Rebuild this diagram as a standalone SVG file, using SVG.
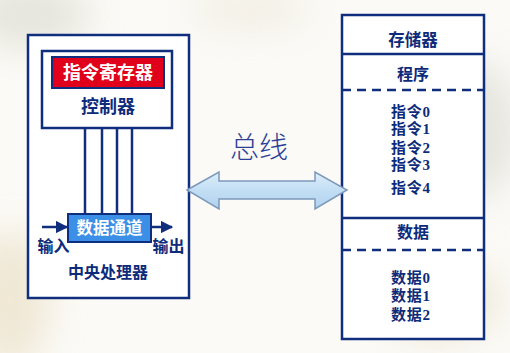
<svg xmlns="http://www.w3.org/2000/svg" width="510" height="353" viewBox="0 0 510 353">
<defs>
<style>
.ln{fill:none;stroke:#102e7e;stroke-width:2.5}
.bx{fill:#ffffff;stroke:#102e7e;stroke-width:2.5}
.t{font-family:"Noto Sans CJK SC","Noto Sans CJK JP",sans-serif;font-weight:bold;fill:#0d2b7a;text-anchor:middle}
.m{font-family:"Liberation Serif","Noto Sans CJK SC",serif;font-weight:bold;fill:#0d2b7a;font-size:15px;letter-spacing:0.8px}
.w{fill:#ffffff}
.dash{fill:none;stroke:#102e7e;stroke-width:2.5;stroke-dasharray:9,6}
</style>
<linearGradient id="bus" x1="0" y1="0" x2="0" y2="1">
<stop offset="0" stop-color="#ddeefa"/>
<stop offset="0.5" stop-color="#c2def4"/>
<stop offset="1" stop-color="#b0d2ee"/>
</linearGradient>
<filter id="blur" x="-50%" y="-50%" width="200%" height="200%"><feGaussianBlur stdDeviation="18"/></filter>
<marker id="arr" viewBox="0 0 10 10" refX="9" refY="5" markerWidth="5" markerHeight="5" orient="auto"><path d="M0,0 L10,5 L0,10 z" fill="#102e7e"/></marker>
</defs>
<rect width="510" height="353" fill="#fbfaf6"/>
<g filter="url(#blur)" opacity="0.6">
<ellipse cx="30" cy="15" rx="60" ry="35" fill="#d8d8cc"/>
<ellipse cx="10" cy="300" rx="40" ry="70" fill="#e8dcc0"/>
<ellipse cx="470" cy="130" rx="50" ry="70" fill="#d8d8d0"/>
<ellipse cx="440" cy="300" rx="60" ry="40" fill="#e6dcc4"/>
<ellipse cx="250" cy="10" rx="60" ry="20" fill="#ece6d8"/>
</g>
<g id="cpu">
<rect class="bx" x="28" y="35" width="161" height="263"/>
<text class="t" x="108" y="278" font-size="16">中央处理器</text>
</g>
<g id="controller">
<rect class="bx" x="42" y="51" width="130" height="77"/>
<text class="t" x="108" y="113" font-size="18">控制器</text>
</g>
<g id="ir">
<rect x="52" y="57" width="112" height="31" fill="#e0001b" stroke="#102e7e" stroke-width="2"/>
<text class="t w" x="108" y="79" font-size="18">指令寄存器</text>
</g>
<g id="datapath">
<rect x="68" y="214" width="83" height="28" fill="#3b8fe6" stroke="#102e7e" stroke-width="2"/>
<text class="t w" x="109.5" y="234" font-size="16.5">数据通道</text>
</g>
<g id="memory">
<rect class="bx" x="342" y="15" width="142" height="324"/>
<line class="ln" x1="342" y1="54" x2="484" y2="54"/>
<line class="dash" x1="342" y1="90" x2="484" y2="90"/>
<line class="ln" x1="342" y1="218" x2="484" y2="218"/>
<line class="dash" x1="342" y1="250" x2="484" y2="250"/>
<text class="t" x="413" y="46" font-size="16.5">存储器</text>
<text class="t" x="413" y="80" font-size="16">程序</text>
<text class="m" x="391" y="117">指令0</text>
<text class="m" x="391" y="134">指令1</text>
<text class="m" x="391" y="153">指令2</text>
<text class="m" x="391" y="170">指令3</text>
<text class="m" x="391" y="193">指令4</text>
<text class="t" x="413" y="238" font-size="16">数据</text>
<text class="m" x="391" y="283">数据0</text>
<text class="m" x="391" y="301">数据1</text>
<text class="m" x="391" y="320">数据2</text>
</g>
<g id="connectors">
<line class="ln" x1="85" y1="128" x2="85" y2="214"/>
<line class="ln" x1="102" y1="128" x2="102" y2="214"/>
<line class="ln" x1="117" y1="128" x2="117" y2="214"/>
<line class="ln" x1="132" y1="128" x2="132" y2="214"/>
<line class="ln" x1="42" y1="227" x2="67" y2="227" marker-end="url(#arr)"/>
<line class="ln" x1="151" y1="227" x2="172" y2="227" marker-end="url(#arr)"/>
<text class="t" x="53.5" y="252" font-size="16">输入</text>
<text class="t" x="168.5" y="252" font-size="16">输出</text>
<path d="M187,190 L219,172 L219,181 L315,181 L315,172 L347,190 L315,209 L315,199 L219,199 L219,209 Z" fill="url(#bus)" stroke="#7d98bb" stroke-width="1.5"/>
<text x="259" y="158" font-family="Noto Sans CJK SC,sans-serif" font-weight="300" font-size="29" fill="#2b3f98" text-anchor="middle">总线</text>
</g>
</svg>
